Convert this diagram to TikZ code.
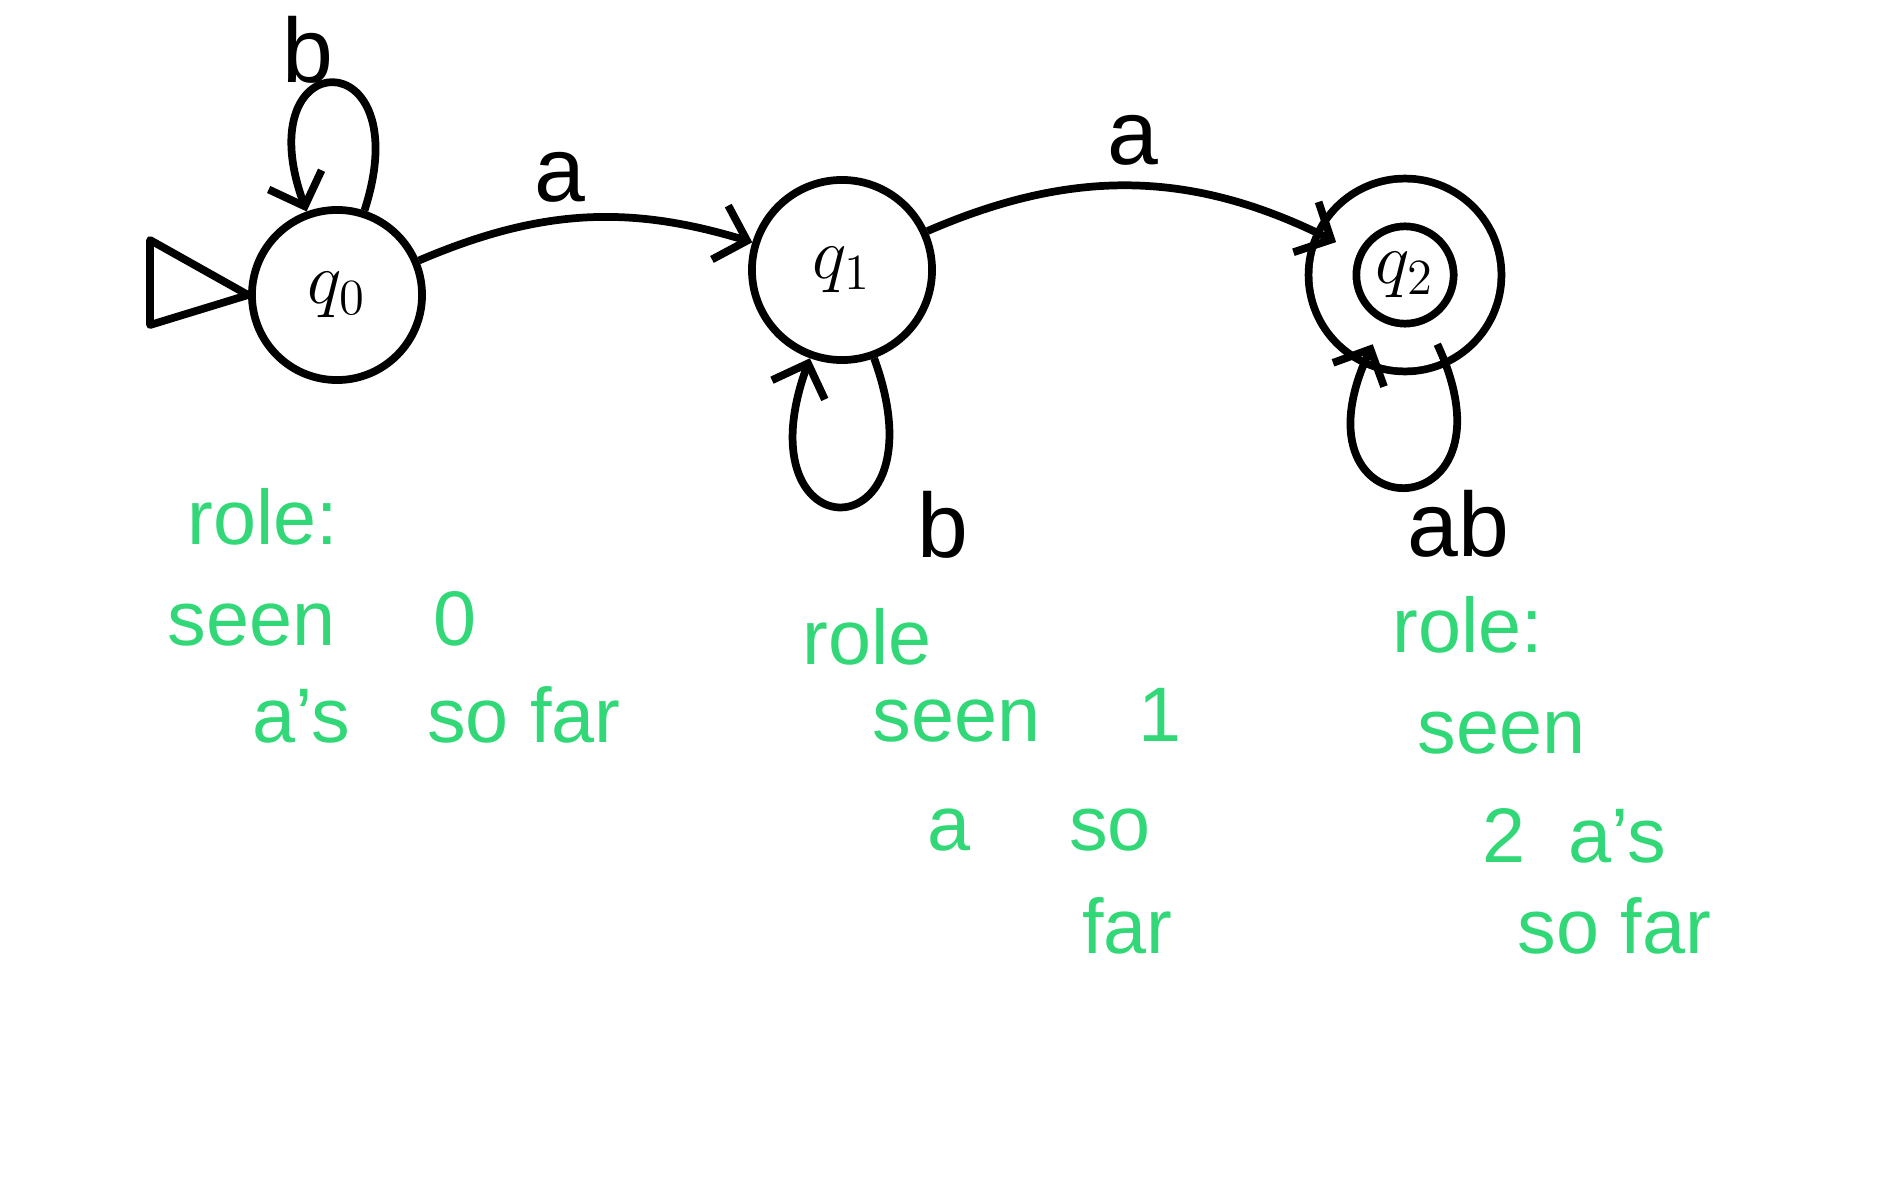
\documentclass[tikz,border=0pt]{standalone}
\usepackage{fontspec}
\setmainfont{Liberation Sans}
\usetikzlibrary{arrows.meta}
\definecolor{notegreen}{RGB}{50,215,120}
\begin{document}
\begin{tikzpicture}[x=0.01cm,y=-0.01cm,
  stnode/.style={shape=circle,draw,line width=2.2pt,minimum size=1.7cm,font=\fontsize{22}{24}\selectfont},
  accnode/.style={stnode,double,double distance=0.4cm,minimum size=1.45cm},
  trans/.style={-{Straight Barb[length=8pt]},line width=2.2pt},
  edgelbl/.style={font=\fontsize{26}{28}\selectfont},
  note/.style={text=notegreen,font=\fontsize{22}{26}\selectfont,anchor=west}]
\useasboundingbox (0,0) rectangle (1885,1197);
\node[stnode](Q0) at (337,295){$q_0$};
\node[stnode,minimum size=1.8cm](Q1) at (842,270){$q_1$};
\node[accnode](Q2) at (1405,275){$q_2$};
% start marker
\coordinate (I1) at (150,240);
\coordinate (I2) at (150,325);
\draw[line width=2.2pt,line join=round] (Q0.west) -- (I1) -- (I2) -- cycle;
% transitions
\draw[trans] (Q0) to[bend left=20] node[edgelbl,midway,above,shift={(-24,0)}]{a} (Q1);
\draw[trans] (Q1) to[bend left=25] node[edgelbl,midway,above,shift={(0,-5)}]{a} (Q2);
\draw[trans] (Q0) to[loop,out=72,in=110,min distance=1.8cm,looseness=5] node[edgelbl,above,pos=.6,shift={(-8,10)}]{b} (Q0);
\draw[trans] (Q1) to[loop,out=-70,in=-110,min distance=2.1cm,looseness=5] node[edgelbl,right,pos=.3,shift={(24,42)}]{b} (Q1);
\draw[trans] (Q2) to[loop,out=-65,in=-115,min distance=2.1cm,looseness=5] node[edgelbl,right,pos=.3,shift={(-54,60)}]{ab} (Q2);
% green notes
\node[note](N0a) at (175,517){role:};
\node[note](N0b) at (155,619){seen\quad\ 0};
\node[note](N0c) at (240,715){a's\quad so far};
\node[note](N1a) at (790,637){role};
\node[note](N1b) at (860,715){seen\quad\ 1};
\node[note](N1c) at (915,830){a\quad\ so};
\node[note](N1d) at (1070,926){far};
\node[note](N2a) at (1380,625){role:};
\node[note](N2b) at (1405,733){seen};
\node[note](N2c) at (1470,836){2\ \ a's};
\node[note](N2d) at (1505,926){so far};
\end{tikzpicture}
\end{document}
